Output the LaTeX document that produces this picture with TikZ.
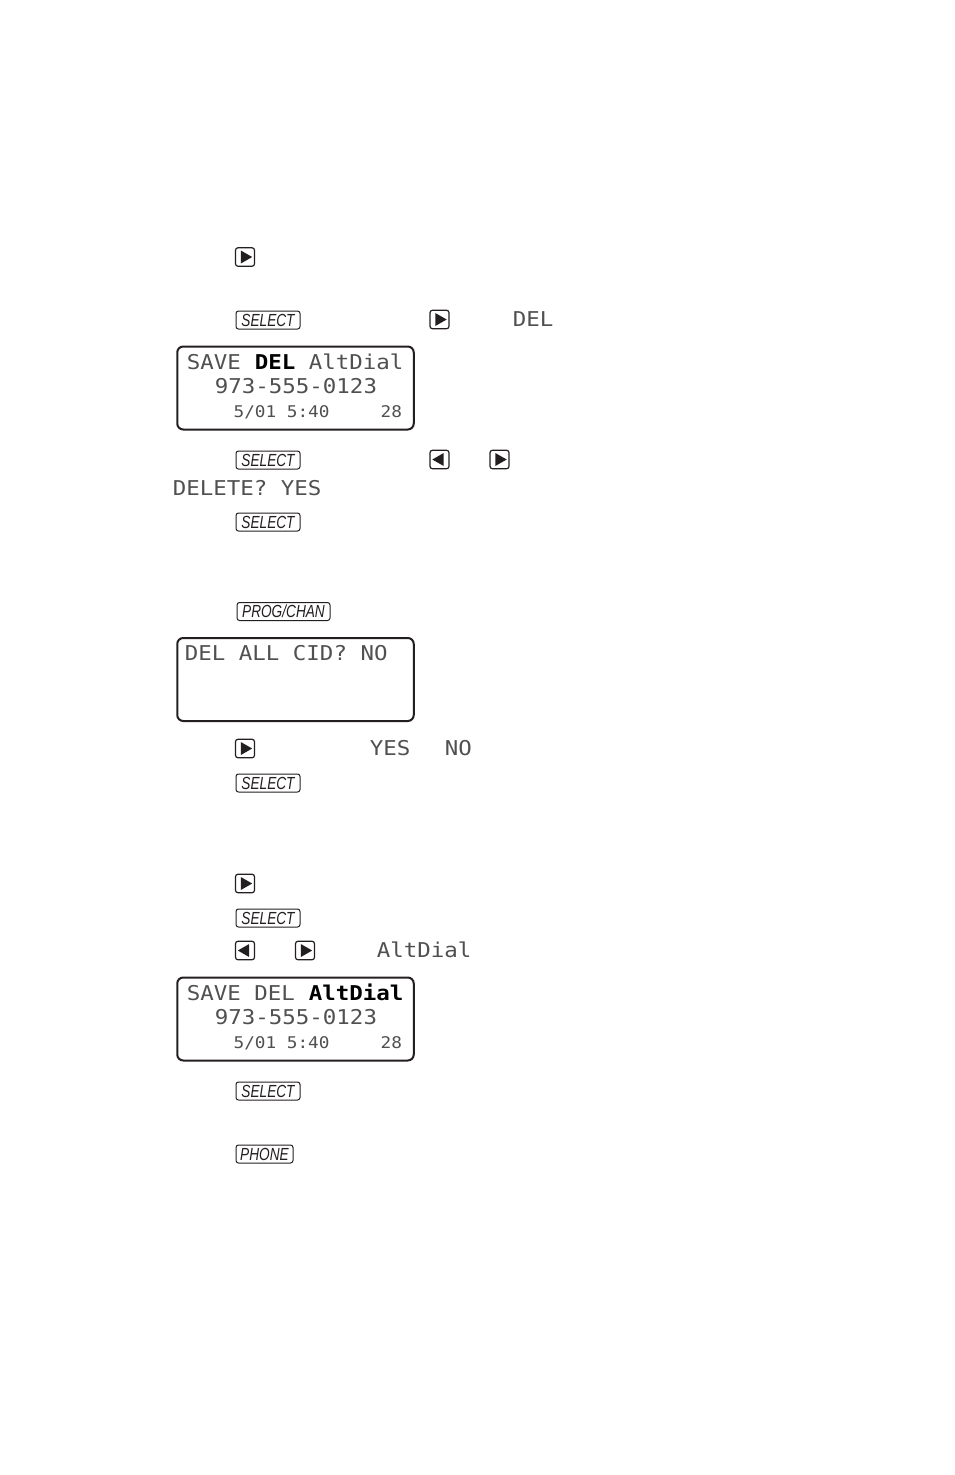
\documentclass[tikz,border=0pt]{standalone}
\usepackage{fontspec}
\setmainfont{Liberation Sans}
\newfontfamily\lcdfont[FakeStretch=1.1]{DejaVu Sans Mono}
\definecolor{lcdgray}{HTML}{505050}
\definecolor{ink}{HTML}{231F20}
\tikzset{
  lcdbox/.style={draw=ink,line width=2pt,rounded corners=6pt,minimum width=236.5pt,minimum height=83pt,inner sep=0pt,fill=white},
  lcdtext/.style={anchor=base west,inner sep=0pt,xshift=0.7pt,text=lcdgray,font=\lcdfont\fontsize{20.4}{20.4}\selectfont},
  lcdboldtext/.style={anchor=base west,inner sep=0pt,xshift=0.7pt,text=black,font=\lcdfont\bfseries\fontsize{20.4}{20.4}\selectfont},
  lcdsmall/.style={anchor=base west,inner sep=0pt,xshift=0.4pt,text=lcdgray,font=\lcdfont\fontsize{16.1}{16.1}\selectfont},
  keycap/.style={draw=ink,line width=1pt,rounded corners=2.5pt,inner sep=0pt,minimum height=18pt,text=ink,font=\itshape\fontsize{17.5}{17.5}\selectfont},
  arrowbox/.style={draw=ink,line width=1.2pt,rounded corners=2.5pt,inner sep=0pt,minimum width=19pt,minimum height=18.5pt},
  arrowtip/.style={fill=ink,draw=none}
}
\newcommand{\rightkey}[3]{\node[arrowbox] (#1) at (#2,#3) {};
  \fill[arrowtip] ([xshift=-4.2pt,yshift=6.5pt]#1.center) -- ([xshift=7.2pt]#1.center) -- ([xshift=-4.2pt,yshift=-6.5pt]#1.center) -- cycle;}
\newcommand{\leftkey}[3]{\node[arrowbox] (#1) at (#2,#3) {};
  \fill[arrowtip] ([xshift=4.2pt,yshift=6.5pt]#1.center) -- ([xshift=-7.2pt]#1.center) -- ([xshift=4.2pt,yshift=-6.5pt]#1.center) -- cycle;}
\newcommand{\capkey}[5]{\node[keycap,minimum width=#4pt] (#1) at (#2,#3) {\scalebox{.78}[1]{#5}};}
\begin{document}
\begin{tikzpicture}[x=1pt,y=-1pt]
\useasboundingbox[fill=white] (0,0) rectangle (954,1475);
% first group
\rightkey{a1}{245}{257}
\capkey{k1}{268}{320}{64}{SELECT}
\rightkey{a2}{439.5}{319.5}
\node[lcdtext] (t1) at (512,326) {DEL};
\node[lcdbox] (d1) at (295.5,388) {};
\node[lcdtext] (d1a) at (186,369) {SAVE};
\node[lcdboldtext] (d1b) at (254,369) {DEL};
\node[lcdtext] (d1c) at (308,369) {AltDial};
\node[lcdtext] (d1d) at (214,393) {973-555-0123};
\node[lcdsmall] (d1e) at (233,417) {5/01 5:40};
\node[lcdsmall] (d1f) at (380,417) {28};
\capkey{k2}{268}{460}{64}{SELECT}
\leftkey{a3}{439.5}{459.5}
\rightkey{a4}{499.5}{459.5}
\node[lcdtext] (t2) at (172,495) {DELETE? YES};
\capkey{k3}{268}{522}{64}{SELECT}
% second group
\capkey{k4}{283.5}{611.5}{93}{PROG/CHAN}
\node[lcdbox] (d2) at (295.5,679.5) {};
\node[lcdtext] (d2a) at (184,660) {DEL ALL CID? NO};
\rightkey{a5}{245}{748.5}
\node[lcdtext] (t3) at (369,755) {YES};
\node[lcdtext] (t4) at (444,755) {NO};
\capkey{k5}{268}{783}{64}{SELECT}
% third group
\rightkey{a6}{245}{883.5}
\capkey{k6}{268}{918}{64}{SELECT}
\leftkey{a7}{245}{950.5}
\rightkey{a8}{305}{950.5}
\node[lcdtext] (t5) at (376,957) {AltDial};
\node[lcdbox] (d3) at (295.5,1019) {};
\node[lcdtext] (d3a) at (186,1000) {SAVE DEL};
\node[lcdboldtext] (d3b) at (308,1000) {AltDial};
\node[lcdtext] (d3c) at (214,1024) {973-555-0123};
\node[lcdsmall] (d3d) at (233,1048) {5/01 5:40};
\node[lcdsmall] (d3e) at (380,1048) {28};
\capkey{k7}{268}{1091}{64}{SELECT}
\capkey{k8}{264.5}{1154}{57}{PHONE}
\end{tikzpicture}
\end{document}
